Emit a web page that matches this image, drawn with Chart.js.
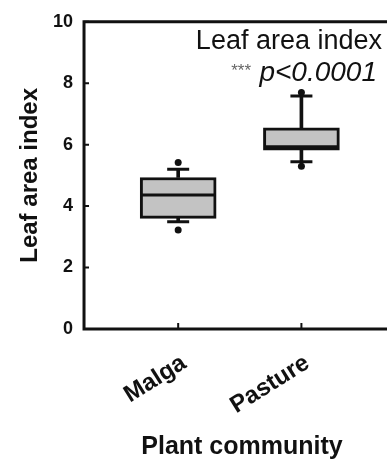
<!DOCTYPE html>
<html>
<head>
<meta charset="utf-8">
<script src="https://cdn.jsdelivr.net/npm/chart.js@4"></script>
<style>
  html, body { margin: 0; background: #fff; overflow: hidden; }
  #wrap { width: 400px; height: 460px; position: relative; }
</style>
</head>
<body>
<div id="wrap"><canvas id="chart"></canvas></div>
<script>
const categories = ["Malga", "Pasture"];
const boxLow = [3.60, 5.82];
const boxHigh = [4.93, 6.55];
const medians = [4.36, 5.93];
const whiskerLow = [3.49, 5.44];
const whiskerHigh = [5.20, 7.58];
const outlierLow = [3.22, 5.30];
const outlierHigh = [5.42, 7.70];
const yTicks = [0, 2, 4, 6, 8, 10];

const FONT = "'Liberation Sans', Arial, sans-serif";
const INK = "#111";
const pos = i => i + 1;
const pts = arr => arr.map((v, i) => ({ x: pos(i), y: v }));
const span = (a, b) => a.map((v, i) => ({ x: pos(i), y: [v, b[i]] }));

// frame, inward ticks and the p-value note
const framePlugin = {
  id: "frame",
  afterDraw(chart) {
    const { ctx, chartArea: a, scales } = chart;
    ctx.save();
    ctx.strokeStyle = INK;
    ctx.lineWidth = 3;
    ctx.beginPath();
    ctx.moveTo(a.right + 2, a.top);
    ctx.lineTo(a.left, a.top);
    ctx.lineTo(a.left, a.bottom);
    ctx.lineTo(a.right + 2, a.bottom);
    ctx.stroke();

    ctx.lineWidth = 2;
    ctx.beginPath();
    yTicks.forEach(v => {
      const y = scales.y.getPixelForValue(v);
      ctx.moveTo(a.left, y);
      ctx.lineTo(a.left + 5, y);
    });
    categories.forEach((c, i) => {
      const x = scales.x.getPixelForValue(pos(i));
      ctx.moveTo(x, a.bottom);
      ctx.lineTo(x, a.bottom - 6);
    });
    ctx.stroke();

    ctx.fillStyle = INK;
    ctx.textAlign = "right";
    ctx.textBaseline = "alphabetic";
    ctx.font = `27px ${FONT}`;
    ctx.fillText("Leaf area index", 382, 48.5);
    ctx.font = `italic 28px ${FONT}`;
    ctx.fillText("p<0.0001", 377, 81);
    ctx.fillStyle = "#666";
    ctx.font = `17px ${FONT}`;
    ctx.fillText("***", 251, 76);
    ctx.restore();
  }
};

const barBase = {
  type: "bar",
  grouped: false,
  borderSkipped: false,
  borderColor: INK
};

new Chart(document.getElementById("chart"), {
  type: "bar",
  data: {
    datasets: [
      { type: "scatter", data: pts(outlierHigh).concat(pts(outlierLow)), pointStyle: "circle", pointRadius: 3.5, backgroundColor: INK, borderColor: INK, borderWidth: 0 },
      { type: "scatter", data: pts(whiskerHigh).concat(pts(whiskerLow)), pointStyle: "line", pointRadius: 11, borderColor: INK, borderWidth: 3 },
      { type: "scatter", data: pts(medians), pointStyle: "line", pointRadius: 37, borderColor: INK, borderWidth: 3 },
      { ...barBase, data: span(boxLow, boxHigh), backgroundColor: "#c3c3c3", borderWidth: 3, barThickness: 76 },
      { ...barBase, data: span(boxHigh, whiskerHigh), backgroundColor: INK, borderWidth: 0, barThickness: 3 },
      { ...barBase, data: span(whiskerLow, boxLow), backgroundColor: INK, borderWidth: 0, barThickness: 3 }
    ]
  },
  options: {
    responsive: true,
    maintainAspectRatio: false,
    animation: false,
    layout: { autoPadding: false, padding: { top: 10, right: 0, bottom: 0, left: 0 } },
    plugins: { legend: { display: false }, tooltip: { enabled: false } },
    scales: {
      x: {
        type: "linear",
        min: 0.236,
        max: 2.80,
        offset: false,
        grid: { display: false, drawTicks: false },
        border: { display: false },
        afterBuildTicks: s => { s.ticks = categories.map((c, i) => ({ value: pos(i) })); },
        ticks: {
          autoSkip: false,
          minRotation: 32,
          maxRotation: 32,
          labelOffset: 6,
          padding: 20,
          color: INK,
          font: { family: FONT, size: 24, weight: "bold" },
          callback: v => categories[v - 1]
        },
        title: {
          display: true,
          text: "Plant community",
          color: INK,
          font: { family: FONT, size: 25, weight: "bold", lineHeight: 0.56 },
          padding: { top: 0, bottom: 6 }
        }
      },
      y: {
        min: 0,
        max: 10,
        grid: { display: false, drawTicks: false },
        border: { display: false },
        afterBuildTicks: s => { s.ticks = yTicks.map(v => ({ value: v })); },
        ticks: {
          padding: 11,
          color: INK,
          font: { family: FONT, size: 18, weight: "bold" }
        },
        title: {
          display: true,
          text: "Leaf area index",
          color: INK,
          font: { family: FONT, size: 24, weight: "bold", lineHeight: 1 },
          padding: { top: 18, bottom: 0 }
        }
      }
    }
  },
  plugins: [framePlugin]
});
</script>
</body>
</html>
